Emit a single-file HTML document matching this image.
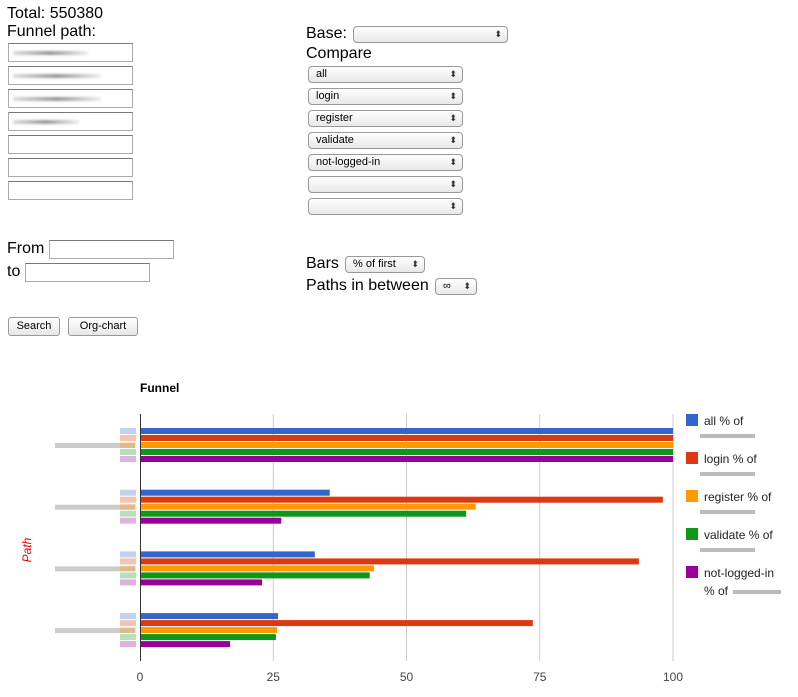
<!DOCTYPE html>
<html><head><meta charset="utf-8"><style>
body{margin:0;width:798px;height:697px;background:#fff;font-family:"Liberation Sans",sans-serif;position:relative;overflow:hidden}
.t{position:absolute;font-size:16px;color:#000;line-height:18px}
.in{position:absolute;width:123px;height:17px;border:1px solid #aaa;border-top-color:#777;background:#fff}
.blur{position:absolute;left:4px;top:7px;height:4px;background:linear-gradient(90deg,#ddd,#999 50%,#eee);filter:blur(1px)}
.sel{position:absolute;height:15px;border:1px solid #999;border-radius:4px;background:linear-gradient(#fff,#e8e8e8);font-size:11px;line-height:15px;padding-left:7px;box-sizing:border-box;height:17px}
.sel:after{content:"⬍";position:absolute;right:5px;top:0;font-size:9px;color:#333}
.btn{position:absolute;height:17px;border:1px solid #999;border-radius:3px;background:linear-gradient(#fff,#e6e6e6);font-size:11px;line-height:16px;text-align:center}
</style></head><body>
<div class="t" style="left:7px;top:5px">Total: 550380</div>
<div class="t" style="left:7px;top:23px">Funnel path:</div>
<div class="in" style="left:8px;top:43px"><div class="blur" style="width:75px"></div></div>
<div class="in" style="left:8px;top:66px"><div class="blur" style="width:88px"></div></div>
<div class="in" style="left:8px;top:89px"><div class="blur" style="width:88px"></div></div>
<div class="in" style="left:8px;top:112px"><div class="blur" style="width:66px"></div></div>
<div class="in" style="left:8px;top:135px"></div>
<div class="in" style="left:8px;top:158px"></div>
<div class="in" style="left:8px;top:181px"></div>
<div class="t" style="left:7px;top:240px">From</div>
<div class="in" style="left:49px;top:240px"></div>
<div class="t" style="left:7px;top:263px">to</div>
<div class="in" style="left:25px;top:263px"></div>
<div class="btn" style="left:8px;top:317px;width:50px">Search</div>
<div class="btn" style="left:68px;top:317px;width:68px">Org-chart</div>

<div class="t" style="left:306px;top:25px">Base:</div>
<div class="sel" style="left:353px;top:26px;width:155px"></div>
<div class="t" style="left:306px;top:45px">Compare</div>
<div class="sel" style="left:308px;top:66px;width:155px">all</div>
<div class="sel" style="left:308px;top:88px;width:155px">login</div>
<div class="sel" style="left:308px;top:110px;width:155px">register</div>
<div class="sel" style="left:308px;top:132px;width:155px">validate</div>
<div class="sel" style="left:308px;top:154px;width:155px">not-logged-in</div>
<div class="sel" style="left:308px;top:176px;width:155px"></div>
<div class="sel" style="left:308px;top:198px;width:155px"></div>
<div class="t" style="left:306px;top:255px">Bars</div>
<div class="sel" style="left:345px;top:256px;width:80px">% of first</div>
<div class="t" style="left:306px;top:277px">Paths in between</div>
<div class="sel" style="left:435px;top:278px;width:42px">∞</div>

<svg id="chart" width="798" height="697" style="position:absolute;left:0;top:0">
<text x="140" y="392" font-size="12" font-weight="bold" font-family="Liberation Sans">Funnel</text>
<text transform="translate(31,550) rotate(-90)" font-size="12" font-style="italic" fill="#e00" text-anchor="middle" font-family="Liberation Sans">Path</text>
<g id="grid"></g><g id="bars"></g><g id="legend"></g>
</svg>
<script>
const series=["all % of","login % of","register % of","validate % of","not-logged-in"];
const colors=["#3366cc","#dc3912","#ff9900","#109618","#990099"];
const ticks=[0,25,50,75,100];
const allVals=[100,35.6,32.8,25.9];
const loginVals=[100,98.1,93.6,73.7];
const registerVals=[100,63,43.9,25.7];
const validateVals=[100,61.2,43.1,25.5];
const notLoggedVals=[100,26.5,22.9,16.9];
const vals=[allVals,loginVals,registerVals,validateVals,notLoggedVals];
const NS="http://www.w3.org/2000/svg";
const x=v=>140+v*5.33;
const gy=i=>428+i*61.7;
function mk(t,a,p){const e=document.createElementNS(NS,t);for(const k in a)e.setAttribute(k,a[k]);p.appendChild(e);return e;}
const grid=document.getElementById('grid'),bars=document.getElementById('bars'),leg=document.getElementById('legend');
ticks.forEach(t=>{
 if(t>0){const l=mk('line',{x1:x(t),x2:x(t),y1:414,y2:661,stroke:'#ccc'},grid);
 
 }
 const tx=mk('text',{x:x(t),y:681,'text-anchor':'middle','font-size':12,fill:'#444','font-family':'Liberation Sans'},grid);tx.textContent=t;
 
 
});
const ax=mk('line',{x1:140.5,x2:140.5,y1:414,y2:661,stroke:'#333'},grid);


for(let g=0;g<4;g++){
 const lb=mk('rect',{x:55,y:gy(g)+15,width:80,height:5,fill:'#999',opacity:0.5,filter:''},bars);
 
 
 for(let s=0;s<5;s++){
  const sw=mk('rect',{x:120,y:gy(g)+s*7,width:16,height:6,fill:colors[s],opacity:0.3},bars);
  
  
  const r=mk('rect',{x:x(0)+1,y:gy(g)+s*7,width:x(vals[s][g])-x(0)-1,height:6,fill:colors[s]},bars);
  
  
 }
}
series.forEach((s,i)=>{
 const y=414+i*38;
 const r=mk('rect',{x:686,y:y,width:12,height:12,fill:colors[i]},leg);
 
 
 const t=mk('text',{x:704,y:y+11,'font-size':12,fill:'#222','font-family':'Liberation Sans'},leg);t.textContent=s;
 
 
 if(i<4){const b=mk('rect',{x:700,y:y+20,width:55,height:4,fill:'#bbb'},leg);}
 else{const t2=mk('text',{x:704,y:y+29,'font-size':12,fill:'#222','font-family':'Liberation Sans'},leg);t2.textContent='% of';
 
 
 const b=mk('rect',{x:733,y:y+24,width:48,height:4,fill:'#bbb'},leg);}
});
</script>
</body></html>
